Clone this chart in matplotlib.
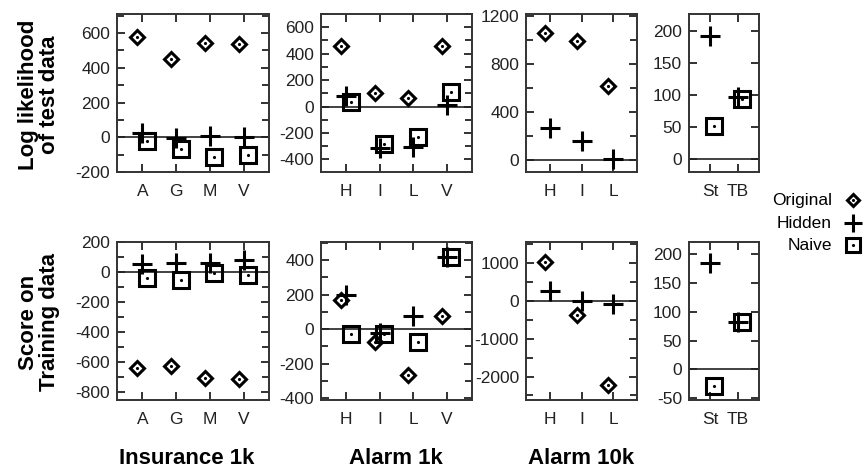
import numpy as np
import matplotlib
matplotlib.use('Agg')
from matplotlib import pyplot as plt
from matplotlib.ticker import MultipleLocator

plt.rcParams['font.family'] = ['Liberation Sans', 'DejaVu Sans']
plt.rcParams['axes.unicode_minus'] = False

# categories per data set
cats_ins = ['A', 'G', 'M', 'V']
cats_al1 = ['H', 'I', 'L', 'V']
cats_al10 = ['H', 'I', 'L']
cats_tree = ['St', 'TB']

# log likelihood of test data
test_ins_orig = [575, 450, 545, 535]
test_ins_hid = [25, -5, 5, 0]
test_ins_naive = [-20, -65, -115, -100]

test_al1_orig = [455, 100, 62, 455]
test_al1_hid = [78, -315, -305, 15]
test_al1_naive = [38, -280, -228, 108]

test_al10_orig = [1055, 990, 612]
test_al10_hid = [265, 158, 5]

test_tree_hid = [192, 97]
test_tree_naive = [51, 94]

# score on training data
train_ins_orig = [-642, -630, -710, -718]
train_ins_hid = [56, 58, 58, 78]
train_ins_naive = [-42, -55, -10, -22]

train_al1_orig = [168, -72, -265, 75]
train_al1_hid = [198, -20, 75, 418]
train_al1_naive = [-25, -25, -75, 420]

train_al10_orig = [1030, -380, -2235]
train_al10_hid = [270, 0, -90]

train_tree_hid = [185, 82]
train_tree_naive = [-28, 82]

W, H = 865, 474
fig = plt.figure(figsize=(W / 100, H / 100), dpi=100)


def add_ax(x0, x1, y0, y1):
    return fig.add_axes([x0 / W, 1 - y1 / H, (x1 - x0) / W, (y1 - y0) / H])


def style(ax, cats, ylim, major, minor):
    n = len(cats)
    ax.set_xlim(-0.75, n - 0.25)
    ax.set_ylim(*ylim)
    ax.set_xticks(range(n))
    ax.set_xticklabels(cats)
    ax.yaxis.set_major_locator(MultipleLocator(major))
    ax.yaxis.set_minor_locator(MultipleLocator(minor))
    ax.tick_params(which='both', direction='in', top=True, right=True,
                   width=1.3, colors='#222222', labelsize=12.5, pad=5)
    ax.tick_params(which='major', length=6)
    ax.tick_params(which='minor', length=5)
    ax.tick_params(axis='x', pad=9)
    for s in ax.spines.values():
        s.set_linewidth(1.4)
        s.set_color('#333333')
    ax.axhline(0, color='#333333', lw=1.3, zorder=1)


def marks(ax, orig=None, hid=None, naive=None):
    if orig is not None:
        x = np.arange(len(orig)) - 0.15
        ax.plot(x, orig, 'D', ms=7, mfc='none', mec='black', mew=2.2, ls='none')
        ax.plot(x, orig, '.', ms=2.5, color='black', ls='none')
    if hid is not None:
        x = np.arange(len(hid))
        ax.plot(x, hid, '+', ms=14, mec='black', mew=2.2, ls='none')
    if naive is not None:
        x = np.arange(len(naive)) + 0.13
        ax.plot(x, naive, 's', ms=11, mfc='none', mec='black', mew=2.2, ls='none')
        ax.plot(x, naive, '.', ms=2.5, color='black', ls='none')


xs = [(117, 269), (321, 472), (526, 637), (689, 759)]
top = (14, 172)
bot = (242, 400)

# top row
ax = add_ax(*xs[0], *top)
style(ax, cats_ins, (-200, 710), 200, 100)
marks(ax, test_ins_orig, test_ins_hid, test_ins_naive)

ax = add_ax(*xs[1], *top)
style(ax, cats_al1, (-495, 700), 200, 100)
marks(ax, test_al1_orig, test_al1_hid, test_al1_naive)

ax = add_ax(*xs[2], *top)
style(ax, cats_al10, (-100, 1215), 400, 200)
marks(ax, test_al10_orig, test_al10_hid)

ax = add_ax(*xs[3], *top)
style(ax, cats_tree, (-21, 227), 50, 50)
marks(ax, None, test_tree_hid, test_tree_naive)

# bottom row
ax = add_ax(*xs[0], *bot)
style(ax, cats_ins, (-855, 200), 200, 100)
marks(ax, train_ins_orig, train_ins_hid, train_ins_naive)

ax = add_ax(*xs[1], *bot)
style(ax, cats_al1, (-410, 505), 200, 100)
marks(ax, train_al1_orig, train_al1_hid, train_al1_naive)

ax = add_ax(*xs[2], *bot)
style(ax, cats_al10, (-2620, 1560), 1000, 500)
marks(ax, train_al10_orig, train_al10_hid)

ax = add_ax(*xs[3], *bot)
style(ax, cats_tree, (-53, 221), 50, 50)
marks(ax, None, train_tree_hid, train_tree_naive)

# row labels
fig.text(39 / W, 1 - 95 / H, 'Log likelihood\nof test data', rotation=90,
         ha='center', va='center', fontsize=16, fontweight='bold',
         linespacing=1.05)
fig.text(39 / W, 1 - 322 / H, 'Score on\nTraining data', rotation=90,
         ha='center', va='center', fontsize=16, fontweight='bold',
         linespacing=1.05)

# column titles
for x, t in [(187, 'Insurance 1k'), (396, 'Alarm 1k'), (581, 'Alarm 10k')]:
    fig.text(x / W, 1 - 458 / H, t, ha='center', va='center',
             fontsize=16, fontweight='bold')

# legend
for y, t in [(200, 'Original'), (223, 'Hidden'), (245, 'Naive')]:
    fig.text(832 / W, 1 - y / H, t, ha='right', va='center', fontsize=12.5)
fig.add_artist(plt.Line2D([853 / W], [1 - 200 / H], marker='D', ms=6,
                          mfc='none', mec='black', mew=2.2))
fig.add_artist(plt.Line2D([853 / W], [1 - 200 / H], marker='.', ms=2.5,
                          color='black'))
fig.add_artist(plt.Line2D([853 / W], [1 - 223 / H], marker='+', ms=13,
                          mec='black', mew=2.2))
fig.add_artist(plt.Line2D([853 / W], [1 - 245 / H], marker='s', ms=10,
                          mfc='none', mec='black', mew=2.2))
fig.add_artist(plt.Line2D([853 / W], [1 - 245 / H], marker='.', ms=2.5,
                          color='black'))

plt.savefig('out.png', dpi=100)
